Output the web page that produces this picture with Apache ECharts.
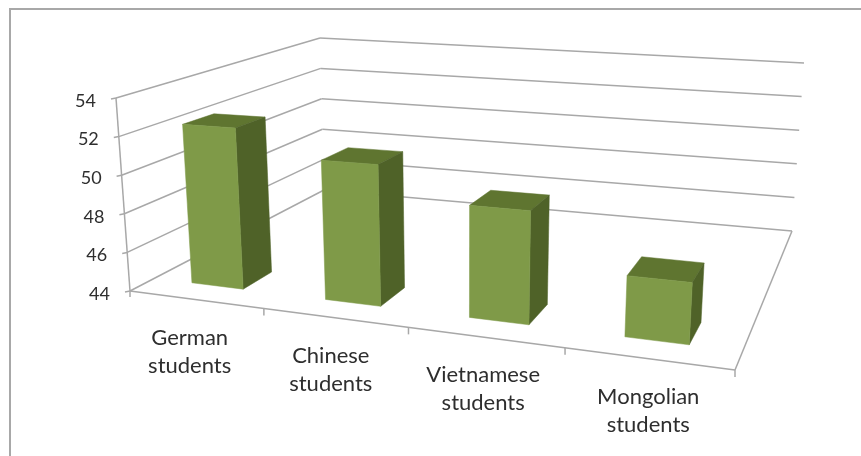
<!DOCTYPE html>
<html>
<head>
<meta charset="utf-8">
<style>html,body{margin:0;padding:0;background:#fff}#c{width:861px;height:456px;filter:blur(0.5px)}</style>
<script src="https://cdn.jsdelivr.net/npm/echarts@6/dist/echarts.min.js"></script>
</head>
<body>
<div id="c"></div>
<script>
var categories = ['German\nstudents', 'Chinese\nstudents', 'Vietnamese\nstudents', 'Mongolian\nstudents'];
var values = [52.4, 51.1, 49.5, 46.9];
var yTicks = [44, 46, 48, 50, 52, 54];

var COLORS = { front: '#7f9a48', side: '#4f6228', top: '#5f7530', grid: '#a8a8a8', text: '#2e2e2e' };
var FONT = 'Lato, "Open Sans", sans-serif';

// Pixel corners of the 3D box: floor front-left, front-right, back-right, back-left; top front-left, top back-left, top back-right
var P = { A: [130, 291], B: [735, 370], C: [792, 231], D: [324, 190], E: [116, 98], F: [320, 38], G: [804, 63] };

var proj = (function () {
  var x0 = P.A[0], y0 = P.A[1], x1 = P.B[0], y1 = P.B[1], x2 = P.C[0], y2 = P.C[1], x3 = P.D[0], y3 = P.D[1];
  var dx1 = x1 - x2, dx2 = x3 - x2, sx = x0 - x1 + x2 - x3;
  var dy1 = y1 - y2, dy2 = y3 - y2, sy = y0 - y1 + y2 - y3;
  var den = dx1 * dy2 - dx2 * dy1;
  var g = (sx * dy2 - dx2 * sy) / den, i = (dx1 * sy - sx * dy1) / den;
  var a = x1 - x0 + g * x1, b = x3 - x0 + i * x3, d = x0;
  var e = y1 - y0 + g * y1, f = y3 - y0 + i * y3, k = y0;
  var j = (a + b + P.E[0] - P.G[0] * (g + i + 1)) / (P.G[0] - P.E[0]);
  var c = P.E[0] * (j + 1) - d, m = P.E[1] * (j + 1) - k;
  return function (u0, v, h) {
    var u = u0 + 0.04 * u0 * (1 - u0);
    var w = g * u + i * v + j * h + 1;
    return [(a * u + b * v + c * h + d) / w, (e * u + f * v + m * h + k) / w];
  };
})();
function lerp(p, q, t) { return [p[0] + (q[0] - p[0]) * t, p[1] + (q[1] - p[1]) * t]; }

function line(p, q) {
  return { type: 'line', silent: true, shape: { x1: p[0], y1: p[1], x2: q[0], y2: q[1] },
    style: { stroke: COLORS.grid, lineWidth: 1.5, fill: null } };
}
function poly(pts, color) {
  return { type: 'polygon', shape: { points: pts }, style: { fill: color, stroke: color, lineWidth: 0.5 } };
}
function heightOf(params, api, val) {
  var cs = params.coordSys;
  return 1 - (api.coord([0, val])[1] - cs.y) / cs.height;
}

var option = {
  animation: false,
  backgroundColor: '#fff',
  graphic: [{ type: 'polyline', silent: true, z: 0,
    shape: { points: [[10, 456], [10, 9], [861, 9]] },
    style: { stroke: '#a8a8a8', lineWidth: 2, fill: null } }],
  grid: { left: 0, right: 0, top: 0, bottom: 0 },
  xAxis: { type: 'category', data: categories, show: false },
  yAxis: { type: 'value', min: 44, max: 54, interval: 2, show: false },
  series: [
    { // walls, gridlines and value labels
      type: 'custom', silent: true, z: 1, clip: false,
      data: yTicks.map(function (t) { return [0, t]; }),
      renderItem: function (params, api) {
        var val = api.value(1), h = heightOf(params, api, val);
        var l = lerp(P.A, P.E, h), b = lerp(P.D, P.F, h), r = lerp(P.C, P.G, h);
        return { type: 'group', children: [
          line(l, b), line(b, r),
          line(l, [l[0] - 5, l[1] + 1]),
          { type: 'text', style: { text: String(val), x: l[0] - 20, y: l[1] + 3, align: 'right', verticalAlign: 'middle',
            fill: COLORS.text, font: '18px ' + FONT } }
        ] };
      }
    },
    { // floor edges, category ticks and labels
      type: 'custom', silent: true, z: 1, clip: false,
      data: categories.map(function (c, i) { return [i, 44]; }),
      renderItem: function (params, api) {
        var cs = params.coordSys, idx = api.value(0), band = api.size([1, 0])[0] / cs.width;
        var uc = (api.coord([idx, 44])[0] - cs.x) / cs.width;
        var ue = uc + band / 2, t = proj(ue, 0, 0), lab = proj(uc, 0, 0);
        var kids = [
          line(t, [t[0], t[1] + 7]),
          { type: 'text', style: { text: categories[idx], x: lab[0] - 6 + idx * 2, y: lab[1] + 24, align: 'center', verticalAlign: 'top',
            fill: COLORS.text, font: '22px ' + FONT, lineHeight: 28 } }
        ];
        if (idx === 0) {
          kids.push(line(P.A, P.B), line(P.B, P.C), line(P.E, P.A), line(P.A, [P.A[0], P.A[1] + 6]));
        }
        return { type: 'group', children: kids };
      }
    },
    { // bars
      type: 'custom', z: 2, clip: false,
      data: categories.map(function (c, i) { return [i, values[i]]; }),
      renderItem: function (params, api) {
        var cs = params.coordSys, pt = api.coord([api.value(0), api.value(1)]);
        var band = api.size([1, 0])[0] / cs.width;
        var uc = (pt[0] - cs.x) / cs.width, h = 1 - (pt[1] - cs.y) / cs.height;
        var u0 = uc - band * 0.2 - 0.002, u1 = uc + band * 0.2 - 0.004, v0 = 0.1, v1 = 0.235;
        var fbl = proj(u0, v0, 0), fbr = proj(u1, v0, 0), ftl = proj(u0, v0, h), ftr = proj(u1, v0, h);
        var bbr = proj(u1, v1, 0), btr = proj(u1, v1, h), btl = proj(u0, v1, h);
        return { type: 'group', children: [
          poly([ftl, ftr, btr, btl], COLORS.top),
          poly([fbr, bbr, btr, ftr], COLORS.side),
          poly([fbl, fbr, ftr, ftl], COLORS.front)
        ] };
      }
    }
  ]
};
var chart = echarts.init(document.getElementById('c'), null, { renderer: 'canvas' });
chart.setOption(option);
</script>
</body>
</html>
